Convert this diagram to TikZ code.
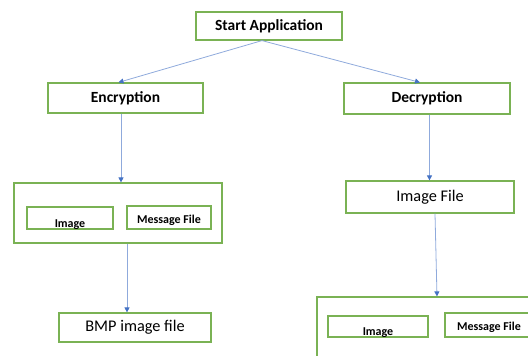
\documentclass[tikz,border=0pt]{standalone}
\usepackage{fontspec}
\setmainfont{Carlito}
\usetikzlibrary{arrows.meta}
\definecolor{boxgreen}{RGB}{122,178,84}
\definecolor{linkblue}{RGB}{143,170,220}
\definecolor{tipblue}{RGB}{68,114,196}
\tikzset{
  box/.style={draw=boxgreen, line width=1.2pt, rectangle, inner sep=0pt, fill=white},
  bigtxt/.style={font=\fontsize{15.5}{18}\selectfont\bfseries},
  plaintxt/.style={font=\fontsize{16.3}{19}\selectfont},
  smalltxt/.style={font=\fontsize{12}{14}\selectfont\bfseries, inner sep=0pt},
  link/.style={draw=linkblue, line width=0.8pt, -{Triangle[length=5pt,width=5pt,color=tipblue]}}
}
\begin{document}
\begin{tikzpicture}[x=1pt,y=-1pt]
  \useasboundingbox (0,0) rectangle (528,356);
  \clip (0,0) rectangle (528,356);

  % top level
  \node[box, bigtxt, minimum width=146pt, minimum height=28pt] (start) at (269,26) {Start Application};
  \node[box, bigtxt, minimum width=155pt, minimum height=30pt] (enc) at (125.5,98) {Encryption};
  \node[box, bigtxt, minimum width=166pt, minimum height=31pt] (dec) at (427,98.5) {Decryption};

  % encryption branch
  \node[box, minimum width=208pt, minimum height=60pt] (encin) at (118,213) {};
  \node[box, minimum width=86pt, minimum height=22pt] (eimg) at (70,218) {};
  \node[box, minimum width=84pt, minimum height=23pt] (emsg) at (169,217.5) {};
  \node[box, plaintxt, minimum width=152pt, minimum height=29pt] (bmp) at (135,327.5) {BMP image file};

  % decryption branch
  \node[box, plaintxt, minimum width=168pt, minimum height=32pt] (imgfile) at (430,197) {Image File};
  \node[box, minimum width=228pt, minimum height=73pt] (decin) at (431,333.5) {};
  \node[box, minimum width=100pt, minimum height=21pt] (dimg) at (378,326.5) {};
  \node[box, minimum width=88pt, minimum height=24pt] (dmsg) at (489,325) {};

  % labels of the inner boxes, cut off by their frames
  \begin{scope}
    \clip (eimg.south west) rectangle (eimg.north east);
    \node[smalltxt, anchor=base] (eimgt) at (70,227) {Image};
  \end{scope}
  \node[smalltxt, anchor=base] (emsgt) at (169,223.5) {Message File};
  \begin{scope}
    \clip (dimg.south west) rectangle (dimg.north east);
    \node[smalltxt, anchor=base] (dimgt) at (378,335) {Image};
  \end{scope}
  \node[smalltxt, anchor=base] (dmsgt) at (489,330.5) {Message File};
  \draw[draw=boxgreen, line width=1.2pt] (eimg.south west) rectangle (eimg.north east);
  \draw[draw=boxgreen, line width=1.2pt] (dimg.south west) rectangle (dimg.north east);

  % connectors
  \coordinate (split) at ([xshift=-7pt]start.south);
  \draw[link] (split) -- ([xshift=-7pt]enc.north);
  \draw[link] (split) -- ([xshift=-7pt]dec.north);
  \draw[link] ([xshift=-4.5pt]enc.south) -- ([xshift=-4.5pt]enc.south |- encin.north);
  \draw[link] ([xshift=9pt]encin.south) -- ([xshift=9pt]encin.south |- bmp.north);
  \draw[link] ([xshift=2.5pt]dec.south) -- ([xshift=2.5pt]dec.south |- imgfile.north);
  \draw[link] ([xshift=5pt]imgfile.south) -- ([xshift=6pt]decin.north);
\end{tikzpicture}
\end{document}
